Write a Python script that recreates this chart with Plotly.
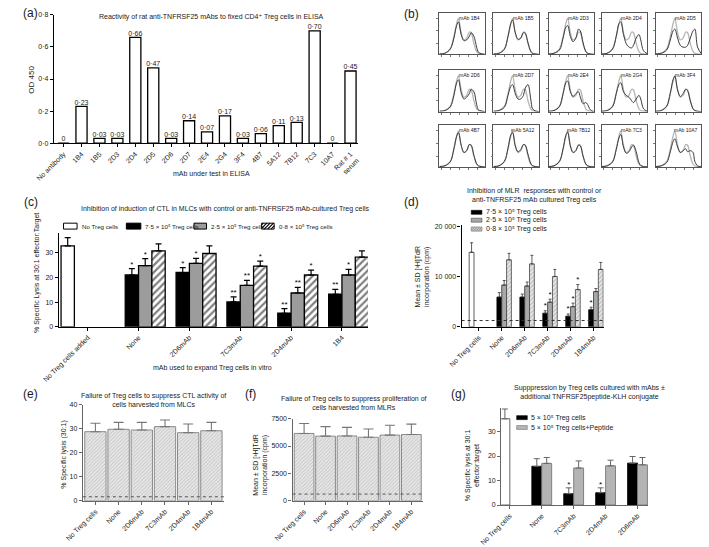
import plotly.graph_objects as go

W, H = 709, 547
FONT = "Arial, 'Liberation Sans', 'DejaVu Sans', Helvetica, sans-serif"

# ---------------- data: panel (a) ----------------
a_categories = ["No antibody", "1B4", "1B5", "2D3", "2D4", "2D5", "2D6", "2D7", "2E4", "2G4",
                "3F4", "4B7", "5A12", "7B12", "7C3", "10A7", "Rat # 1<br>serum"]
a_od450 = [0, 0.23, 0.03, 0.03, 0.66, 0.47, 0.03, 0.14, 0.07, 0.17, 0.03, 0.06, 0.11, 0.13, 0.70, 0, 0.45]
a_yticks = [0, 0.2, 0.4, 0.6, 0.8]
a_yticklabels = ["0·0", "0·2", "0·4", "0·6", "0·8"]

# ---------------- data: panel (b) flow histograms ----------------
b_panels = ["mAb 1B4", "mAb 1B5", "mAb 2D3", "mAb 2D4", "mAb 2D5",
            "mAb 2D6", "mAb 2D7", "mAb 2E4", "mAb 2G4", "mAb 3F4",
            "mAb 4B7", "mAb 5A12", "mAb 7B12", "mAb 7C3", "mAb 10A7"]
b_log_fluor = [0.0, 0.6, 1.2, 1.6, 1.9, 2.1, 2.4, 2.7, 3.0, 3.3, 3.5, 3.8, 4.1, 4.3, 4.6, 5.0]
b_isotype = [0.01, 0.03, 0.15, 0.50, 0.85, 1.00, 0.60, 0.40, 0.45, 0.62, 0.60, 0.30, 0.08, 0.03, 0.01, 0.0]
b_mab = [
    [0.01, 0.03, 0.15, 0.45, 0.80, 0.90, 0.55, 0.38, 0.40, 0.50, 0.60, 0.50, 0.20, 0.06, 0.02, 0.0],
    [0.01, 0.03, 0.14, 0.50, 0.85, 0.95, 0.60, 0.42, 0.45, 0.60, 0.58, 0.32, 0.09, 0.03, 0.01, 0.0],
    [0.01, 0.03, 0.12, 0.45, 0.75, 0.80, 0.50, 0.35, 0.45, 0.70, 0.65, 0.32, 0.08, 0.03, 0.01, 0.0],
    [0.01, 0.03, 0.15, 0.50, 0.85, 0.90, 0.55, 0.30, 0.20, 0.18, 0.25, 0.45, 0.55, 0.40, 0.10, 0.02],
    [0.01, 0.03, 0.12, 0.40, 0.65, 0.70, 0.45, 0.25, 0.20, 0.20, 0.25, 0.45, 0.65, 0.70, 0.20, 0.02],
    [0.01, 0.03, 0.13, 0.45, 0.80, 0.88, 0.52, 0.35, 0.40, 0.50, 0.62, 0.55, 0.20, 0.05, 0.02, 0.0],
    [0.01, 0.03, 0.12, 0.45, 0.70, 0.75, 0.50, 0.35, 0.35, 0.45, 0.65, 0.75, 0.35, 0.08, 0.02, 0.0],
    [0.01, 0.03, 0.14, 0.50, 0.80, 0.85, 0.55, 0.42, 0.50, 0.55, 0.40, 0.22, 0.25, 0.20, 0.05, 0.0],
    [0.01, 0.03, 0.14, 0.50, 0.75, 0.80, 0.55, 0.45, 0.40, 0.30, 0.25, 0.35, 0.45, 0.35, 0.08, 0.01],
    [0.01, 0.03, 0.15, 0.52, 0.88, 0.98, 0.60, 0.42, 0.50, 0.62, 0.58, 0.30, 0.08, 0.03, 0.01, 0.0],
    [0.01, 0.03, 0.14, 0.50, 0.85, 0.95, 0.60, 0.40, 0.45, 0.62, 0.60, 0.32, 0.09, 0.03, 0.01, 0.0],
    [0.01, 0.03, 0.15, 0.52, 0.88, 0.95, 0.58, 0.42, 0.48, 0.62, 0.60, 0.35, 0.10, 0.03, 0.01, 0.0],
    [0.01, 0.03, 0.15, 0.50, 0.87, 0.96, 0.58, 0.40, 0.45, 0.60, 0.58, 0.30, 0.08, 0.03, 0.01, 0.0],
    [0.01, 0.03, 0.14, 0.48, 0.80, 0.90, 0.55, 0.38, 0.42, 0.55, 0.60, 0.42, 0.12, 0.04, 0.01, 0.0],
    [0.01, 0.03, 0.12, 0.42, 0.70, 0.78, 0.55, 0.40, 0.45, 0.50, 0.42, 0.45, 0.40, 0.15, 0.03, 0.0],
]

# ---------------- data: panel (c) ----------------
c_groups = ["No Treg cells added", "None", "2D6mAb", "7C3mAb", "2D4mAb", "1B4"]
c_no_treg = [32.8, None, None, None, None, None]
c_no_treg_sd = [3.3, None, None, None, None, None]
c_treg_75 = [None, 21.0, 22.0, 10.1, 5.5, 13.2]
c_treg_75_sd = [None, 2.6, 2.0, 2.0, 1.9, 2.0]
c_treg_75_sig = ["", "*", "*", "**", "**", "**"]
c_treg_25 = [None, 24.8, 25.7, 16.8, 13.7, 21.0]
c_treg_25_sd = [None, 2.8, 2.0, 2.0, 2.3, 2.3]
c_treg_25_sig = ["", "*", "*", "**", "**", "*"]
c_treg_08 = [None, 30.8, 29.7, 24.6, 21.0, 28.2]
c_treg_08_sd = [None, 2.8, 3.1, 2.0, 2.0, 2.6]
c_treg_08_sig = ["", "", "", "*", "*", ""]

# ---------------- data: panel (d) ----------------
d_groups = ["No Treg cells", "None", "2D6mAb", "7C3mAb", "2D4mAb", "1B4mAb"]
d_no_treg = [14800, None, None, None, None, None]
d_no_treg_sd = [1900, None, None, None, None, None]
d_treg_75 = [None, 5900, 5900, 2700, 2100, 3400]
d_treg_75_sd = [None, 900, 600, 500, 450, 500]
d_treg_75_sig = ["", "", "", "*", "*", "*"]
d_treg_25 = [None, 8300, 8100, 4900, 4000, 7000]
d_treg_25_sd = [None, 900, 800, 600, 700, 600]
d_treg_25_sig = ["", "", "", "*", "*", ""]
d_treg_08 = [None, 13300, 12500, 10000, 7400, 11400]
d_treg_08_sd = [None, 1300, 1700, 1400, 1000, 1400]
d_treg_08_sig = ["", "", "", "", "*", ""]
d_background = 1250

# ---------------- data: panel (e) ----------------
e_groups = ["No Treg cells", "None", "2D6mAb", "7C3mAb", "2D4mAb", "1B4mAb"]
e_lysis = [28.8, 29.8, 29.5, 30.9, 28.4, 29.2]
e_lysis_sd = [3.5, 2.9, 3.2, 2.8, 3.6, 3.5]
e_background = 1.7

# ---------------- data: panel (f) ----------------
f_groups = ["No Treg cells", "None", "2D6mAb", "7C3mAb", "2D4mAb", "1B4mAb"]
f_cpm = [6150, 5900, 5920, 5800, 6000, 6050]
f_cpm_sd = [900, 870, 780, 750, 900, 950]
f_background = 620

# ---------------- data: panel (g) ----------------
g_groups = ["No Treg cells", "None", "7C3mAb", "2D4mAb", "2D6mAb"]
g_no_treg = [35.2, None, None, None, None]
g_no_treg_sd = [4.0, None, None, None, None]
g_treg = [None, 15.8, 4.6, 5.0, 17.1]
g_treg_sd = [None, 3.1, 2.4, 2.0, 2.7]
g_treg_sig = ["", "", "*", "*", ""]
g_treg_pep = [None, 17.0, 15.1, 16.0, 16.4]
g_treg_pep_sd = [None, 2.4, 2.9, 2.3, 3.0]


# ---------------- helpers ----------------
def px(x):
    return x / W


def py(y):
    return 1 - y / H


def dom_x(a, b):
    return [px(a), px(b)]


def dom_y(top, bottom):
    return [py(bottom), py(top)]


def dec(v):
    return "0" if v == 0 else f"{v:.2f}".replace(".", "·")


annotations = []
shapes = []


def text(t, x, y, size=7, angle=0, xanchor="center", yanchor="middle", align="center"):
    annotations.append(dict(text=t, x=px(x), y=py(y), xref="paper", yref="paper",
                            showarrow=False, textangle=angle, xanchor=xanchor, yanchor=yanchor,
                            align=align, font=dict(size=size, family=FONT, color="#1a1a1a")))


def hatch_path(x0, y0, x1, y1, step):
    segs = []
    c = x0 + y0 + step / 2
    while c < x1 + y1:
        xa = max(x0, c - y1)
        xb = min(x1, c - y0)
        if xb > xa:
            segs.append(f"M{px(xa):.5f},{py(c - xa):.5f} L{px(xb):.5f},{py(c - xb):.5f}")
        c += step
    return " ".join(segs)


def swatch(x0, y0, x1, y1, fill, line="black", hatch=None, hatch_color="black", lw=1):
    shapes.append(dict(type="rect", xref="paper", yref="paper", x0=px(x0), x1=px(x1),
                       y0=py(y1), y1=py(y0), fillcolor=fill, line=dict(color=line, width=lw)))
    if hatch:
        shapes.append(dict(type="path", xref="paper", yref="paper",
                           path=hatch_path(x0, y0, x1, y1, hatch),
                           line=dict(color=hatch_color, width=1.2)))


def up_err(sd, color="black", thick=1.2, width=3):
    return dict(type="data", symmetric=False, array=sd,
                arrayminus=[0 if s is not None else None for s in sd],
                color=color, thickness=thick, width=width)


def stars(fig, xs, vals, sds, sig, off, xa, ya, pad, size=8):
    pts_x, pts_y, labels = [], [], []
    for i, (v, s, g) in enumerate(zip(vals, sds, sig)):
        if g and v is not None:
            pts_x.append(xs[i] + off)
            pts_y.append(v + s + pad)
            labels.append(g)
    fig.add_trace(go.Scatter(x=pts_x, y=pts_y, mode="text", text=labels, textposition="middle center",
                             textfont=dict(size=size, family=FONT, color="black"), cliponaxis=False,
                             xaxis=xa, yaxis=ya, showlegend=False, hoverinfo="skip"))


fig = go.Figure()
AX = dict(showline=True, linecolor="black", linewidth=1.2, showgrid=False, zeroline=False,
          ticks="outside", ticklen=3, tickwidth=1, tickcolor="black",
          tickfont=dict(size=7, family=FONT, color="#1a1a1a"))

# ---------------- panel (a) ----------------
a_idx = list(range(len(a_categories)))
fig.add_trace(go.Bar(x=a_idx, y=a_od450, width=0.62, xaxis="x", yaxis="y", showlegend=False,
                     marker=dict(color="white", line=dict(color="black", width=1.3)), hoverinfo="skip"))
fig.add_trace(go.Scatter(x=a_idx, y=a_od450, mode="text", text=[dec(v) for v in a_od450],
                         textposition="top center", textfont=dict(size=7, family=FONT, color="#1a1a1a"),
                         cliponaxis=False, xaxis="x", yaxis="y", showlegend=False, hoverinfo="skip"))
layout_axes = {}
layout_axes["xaxis"] = dict(AX, domain=dom_x(33, 348), range=[-0.54, 16.43], anchor="y",
                            tickvals=a_idx, ticktext=a_categories, tickangle=-45)
layout_axes["yaxis"] = dict(AX, domain=dom_y(11, 141), range=[0, 0.8], anchor="x",
                            tickvals=a_yticks, ticktext=a_yticklabels)
text("(a)", 9, 9, size=12)
text("Reactivity of rat anti-TNFRSF25 mAbs to fixed CD4⁺ Treg cells in ELISA", 196, 13, size=7)
text("OD 450", 9, 77, size=8, angle=-90)
text("mAb under test in ELISA", 196, 172, size=7)

# ---------------- panel (b) ----------------
b_cols = [432, 488, 545, 600, 656]
b_rows = [9, 67, 123]
for i, name in enumerate(b_panels):
    n = 7 + i
    r, c = divmod(i, 5)
    x0, y0 = b_cols[c], b_rows[r]
    fig.add_trace(go.Scatter(x=b_log_fluor, y=b_isotype, mode="lines", line=dict(color="#b5b5b5", width=1.3, shape="spline"),
                             xaxis=f"x{n}", yaxis=f"y{n}", showlegend=False, hoverinfo="skip"))
    fig.add_trace(go.Scatter(x=b_log_fluor, y=b_mab[i], mode="lines", line=dict(color="#3a3a3a", width=1, shape="spline"),
                             xaxis=f"x{n}", yaxis=f"y{n}", showlegend=False, hoverinfo="skip"))
    bx = dict(showline=True, mirror=True, linecolor="#555", linewidth=0.8, showgrid=False, zeroline=False,
              ticks="outside", ticklen=2, tickwidth=0.6, tickcolor="#777", showticklabels=False)
    layout_axes[f"xaxis{n}"] = dict(bx, domain=dom_x(x0, x0 + 47), range=[0, 5], anchor=f"y{n}",
                                    tickvals=[0.2, 1.2, 2.2, 3.2, 4.2])
    layout_axes[f"yaxis{n}"] = dict(bx, domain=dom_y(y0, y0 + 42), range=[0, 1.15], anchor=f"x{n}",
                                    tickvals=[0.3, 0.65, 1.0])
    text(name, x0 + 31, y0 + 5, size=5)
text("(b)", 403, 10, size=12)

# ---------------- panel (c) ----------------
c_idx = list(range(len(c_groups)))
cw = 0.262
c_series = [
    (c_no_treg, c_no_treg_sd, None, -2 * cw, dict(color="white", line=dict(color="black", width=1.3))),
    (c_treg_75, c_treg_75_sd, c_treg_75_sig, -cw, dict(color="black", line=dict(color="black", width=1.3))),
    (c_treg_25, c_treg_25_sd, c_treg_25_sig, 0, dict(color="#9c9c9c", line=dict(color="black", width=1.3))),
    (c_treg_08, c_treg_08_sd, c_treg_08_sig, cw, dict(color="white", line=dict(color="black", width=1.3),
                                                      pattern=dict(shape="/", fgcolor="black", bgcolor="white",
                                                                   size=5, solidity=0.45))),
]
for vals, sd, sig, off, mk in c_series:
    fig.add_trace(go.Bar(x=c_idx, y=vals, width=cw, offset=off, marker=mk, error_y=up_err(sd),
                         xaxis="x2", yaxis="y2", showlegend=False, hoverinfo="skip"))
    if sig:
        stars(fig, c_idx, vals, sd, sig, off + cw / 2, "x2", "y2", 1.6)
layout_axes["xaxis2"] = dict(AX, domain=dom_x(38, 358), range=[-0.57, 5.51], anchor="y2",
                             tickvals=c_idx, ticktext=c_groups, tickangle=-45)
layout_axes["yaxis2"] = dict(AX, domain=dom_y(232, 327), range=[0, 38], anchor="x2",
                             tickvals=[0, 10, 20, 30])
text("(c)", 9, 201, size=12)
text("Inhibition of induction of CTL in MLCs with control or anti-TNFRSF25 mAb-cultured Treg cells", 211, 208, size=7)
text("% Specific Lysis at 30:1 effector:Target", 15, 272, size=7, angle=-90)
text("mAb used to expand Treg cells in vitro", 197, 369, size=7)
# legend (c)
swatch(43, 222, 57, 228, "white")
text("No Treg cells", 60, 225, size=6.2, xanchor="left")
swatch(108, 222, 123, 228, "black")
text("7·5 × 10⁵ Treg cells", 125, 225, size=6.2, xanchor="left")
swatch(178, 222, 191, 228, "#9c9c9c")
text("2·5 × 10⁵ Treg cells", 194, 225, size=6.2, xanchor="left")
swatch(248, 222, 261, 228, "white", hatch=3.5)
text("0·8 × 10⁵ Treg cells", 264, 225, size=6.2, xanchor="left")

# ---------------- panel (d) ----------------
d_idx = list(range(len(d_groups)))
dw = 0.21
d_series = [
    (d_no_treg, d_no_treg_sd, None, -2 * dw, dict(color="white", line=dict(color="#333", width=0.8))),
    (d_treg_75, d_treg_75_sd, d_treg_75_sig, -dw, dict(color="black", line=dict(color="black", width=0.8))),
    (d_treg_25, d_treg_25_sd, d_treg_25_sig, 0, dict(color="#a8a8a8", line=dict(color="#333", width=0.8))),
    (d_treg_08, d_treg_08_sd, d_treg_08_sig, dw, dict(color="#e4e4e4", line=dict(color="#444", width=0.8),
                                                      pattern=dict(shape="/", fgcolor="#8a8a8a", bgcolor="#e8e8e8",
                                                                   size=3, solidity=0.35))),
]
for vals, sd, sig, off, mk in d_series:
    fig.add_trace(go.Bar(x=d_idx, y=vals, width=dw, offset=off, marker=mk,
                         error_y=up_err(sd, color="#333", thick=0.8, width=1.5),
                         xaxis="x3", yaxis="y3", showlegend=False, hoverinfo="skip"))
    if sig:
        stars(fig, d_idx, vals, sd, sig, off + dw / 2, "x3", "y3", 900, size=8)
layout_axes["xaxis3"] = dict(AX, domain=dom_x(455, 602), range=[-0.75, 5.44], anchor="y3",
                             tickvals=d_idx, ticktext=d_groups, tickangle=-45)
layout_axes["yaxis3"] = dict(AX, domain=dom_y(224, 327), range=[0, 20200], anchor="x3",
                             tickvals=[0, 10000, 20000], ticktext=["0", "10 000", "20 000"])
shapes.append(dict(type="line", xref="x3 domain", yref="y3", x0=0, x1=1, y0=d_background, y1=d_background,
                   line=dict(color="#333", width=1, dash="dot")))
text("(d)", 403, 201, size=12)
text("Inhibition of MLR  responses with control or<br>anti-TNFRSF25 mAb cultured Treg cells", 530, 194, size=7)
text("Mean ± SD [³H]TdR<br>incorporation (cpm)", 414, 276, size=7, angle=-90)
swatch(465, 209, 476, 213, "black", lw=0.6)
text("7·5 × 10⁵ Treg cells", 478, 211, xanchor="left")
swatch(465, 217, 476, 221, "#a8a8a8", line="#444", lw=0.6)
text("2·5 × 10⁵ Treg cells", 478, 219, xanchor="left")
swatch(465, 226, 476, 230, "#e8e8e8", line="#555", lw=0.6, hatch=2.5, hatch_color="#999")
text("0·8 × 10⁵ Treg cells", 478, 228, xanchor="left")

# ---------------- panels (e) and (f) ----------------
light_hatch = dict(color="#dedede", line=dict(color="#8a8a8a", width=1),
                   pattern=dict(shape="/", fgcolor="#a0a0a0", bgcolor="#e4e4e4", size=2.5, solidity=0.35))
e_idx = list(range(len(e_groups)))
fig.add_trace(go.Bar(x=e_idx, y=e_lysis, width=0.92, marker=light_hatch,
                     error_y=up_err(e_lysis_sd, color="#777", thick=1.1, width=5),
                     xaxis="x4", yaxis="y4", showlegend=False, hoverinfo="skip"))
layout_axes["xaxis4"] = dict(AX, domain=dom_x(63, 209), range=[-0.54, 5.54], anchor="y4",
                             tickvals=e_idx, ticktext=e_groups, tickangle=-45,
                             linecolor="#666", tickcolor="#666")
layout_axes["yaxis4"] = dict(AX, domain=dom_y(406, 503.3), range=[0, 40], anchor="x4",
                             tickvals=[0, 10, 20, 30, 40], linecolor="#666", tickcolor="#666")
shapes.append(dict(type="line", xref="x4 domain", yref="y4", x0=0, x1=1, y0=e_background, y1=e_background,
                   line=dict(color="#555", width=1, dash="dot")))
text("(e)", 9, 395, size=12)
text("Failure of Treg cells to suppress CTL activity of<br>cells harvested from MLCs", 136, 401, size=7)
text("% Specific lysis (30:1)", 44, 457, size=7, angle=-90)

f_idx = list(range(len(f_groups)))
fig.add_trace(go.Bar(x=f_idx, y=f_cpm, width=0.92, marker=light_hatch,
                     error_y=up_err(f_cpm_sd, color="#777", thick=1.1, width=5),
                     xaxis="x5", yaxis="y5", showlegend=False, hoverinfo="skip"))
layout_axes["xaxis5"] = dict(AX, domain=dom_x(280, 415), range=[-0.54, 5.54], anchor="y5",
                             tickvals=f_idx, ticktext=f_groups, tickangle=-45,
                             linecolor="#666", tickcolor="#666")
layout_axes["yaxis5"] = dict(AX, domain=dom_y(420, 503.3), range=[0, 7500], anchor="x5",
                             tickvals=[0, 2500, 5000, 7500], linecolor="#666", tickcolor="#666")
shapes.append(dict(type="line", xref="x5 domain", yref="y5", x0=0, x1=1, y0=f_background, y1=f_background,
                   line=dict(color="#555", width=1, dash="dot")))
text("(f)", 236, 395, size=12)
text("Failure of Treg cells to suppress proliferation of<br>cells harvested from MLRs", 344, 404, size=7)
text("Mean ± SD [³H]TdR<br>incorporation (cpm)", 246, 467, size=7, angle=-90)

# ---------------- panel (g) ----------------
g_idx = list(range(len(g_groups)))
gw = 0.31
g_series = [
    (g_no_treg, g_no_treg_sd, None, -gw, dict(color="white", line=dict(color="#555", width=0.9))),
    (g_treg, g_treg_sd, g_treg_sig, -gw, dict(color="black", line=dict(color="black", width=0.9))),
    (g_treg_pep, g_treg_pep_sd, None, 0, dict(color="#b4b4b4", line=dict(color="#777", width=0.9))),
]
for vals, sd, sig, off, mk in g_series:
    fig.add_trace(go.Bar(x=g_idx, y=vals, width=gw, offset=off, marker=mk,
                         error_y=up_err(sd, color="#666", thick=1, width=3),
                         xaxis="x6", yaxis="y6", showlegend=False, hoverinfo="skip"))
    if sig:
        stars(fig, g_idx, vals, sd, sig, off + gw / 2, "x6", "y6", 1.3)
layout_axes["xaxis6"] = dict(AX, domain=dom_x(496, 648), range=[-0.27, 4.33], anchor="y6",
                             tickvals=g_idx, ticktext=g_groups, tickangle=-45,
                             linecolor="#666", tickcolor="#666")
layout_axes["yaxis6"] = dict(AX, domain=dom_y(409, 507.5), range=[0, 39.7], anchor="x6",
                             tickvals=[0, 10, 20, 30], linecolor="#666", tickcolor="#666")
text("(g)", 452, 395, size=12)
text("Supppression by Treg cells cultured with mAbs ±<br>additional TNFRSF25peptide-KLH conjugate", 587, 394, size=7)
text("% Specific lysis at 30:1<br>effector:target", 466, 467, size=7, angle=-90)
swatch(512, 417, 523, 421, "black", lw=0.6)
text("5 × 10⁵ Treg cells", 525, 419, xanchor="left")
swatch(512, 427, 523, 431, "#b4b4b4", line="#777", lw=0.6)
text("5 × 10⁵ Treg cells+Peptide", 525, 429, xanchor="left")

fig.update_layout(
    width=W, height=H, autosize=False,
    margin=dict(l=0, r=0, t=0, b=0),
    paper_bgcolor="white", plot_bgcolor="white",
    barmode="overlay",
    font=dict(family=FONT, size=7, color="#1a1a1a"),
    annotations=annotations, shapes=shapes,
    showlegend=False,
    **layout_axes,
)

fig.write_html("out.html", config={"displayModeBar": False},
               post_script="document.body.style.margin='0';document.body.style.overflow='hidden';")
